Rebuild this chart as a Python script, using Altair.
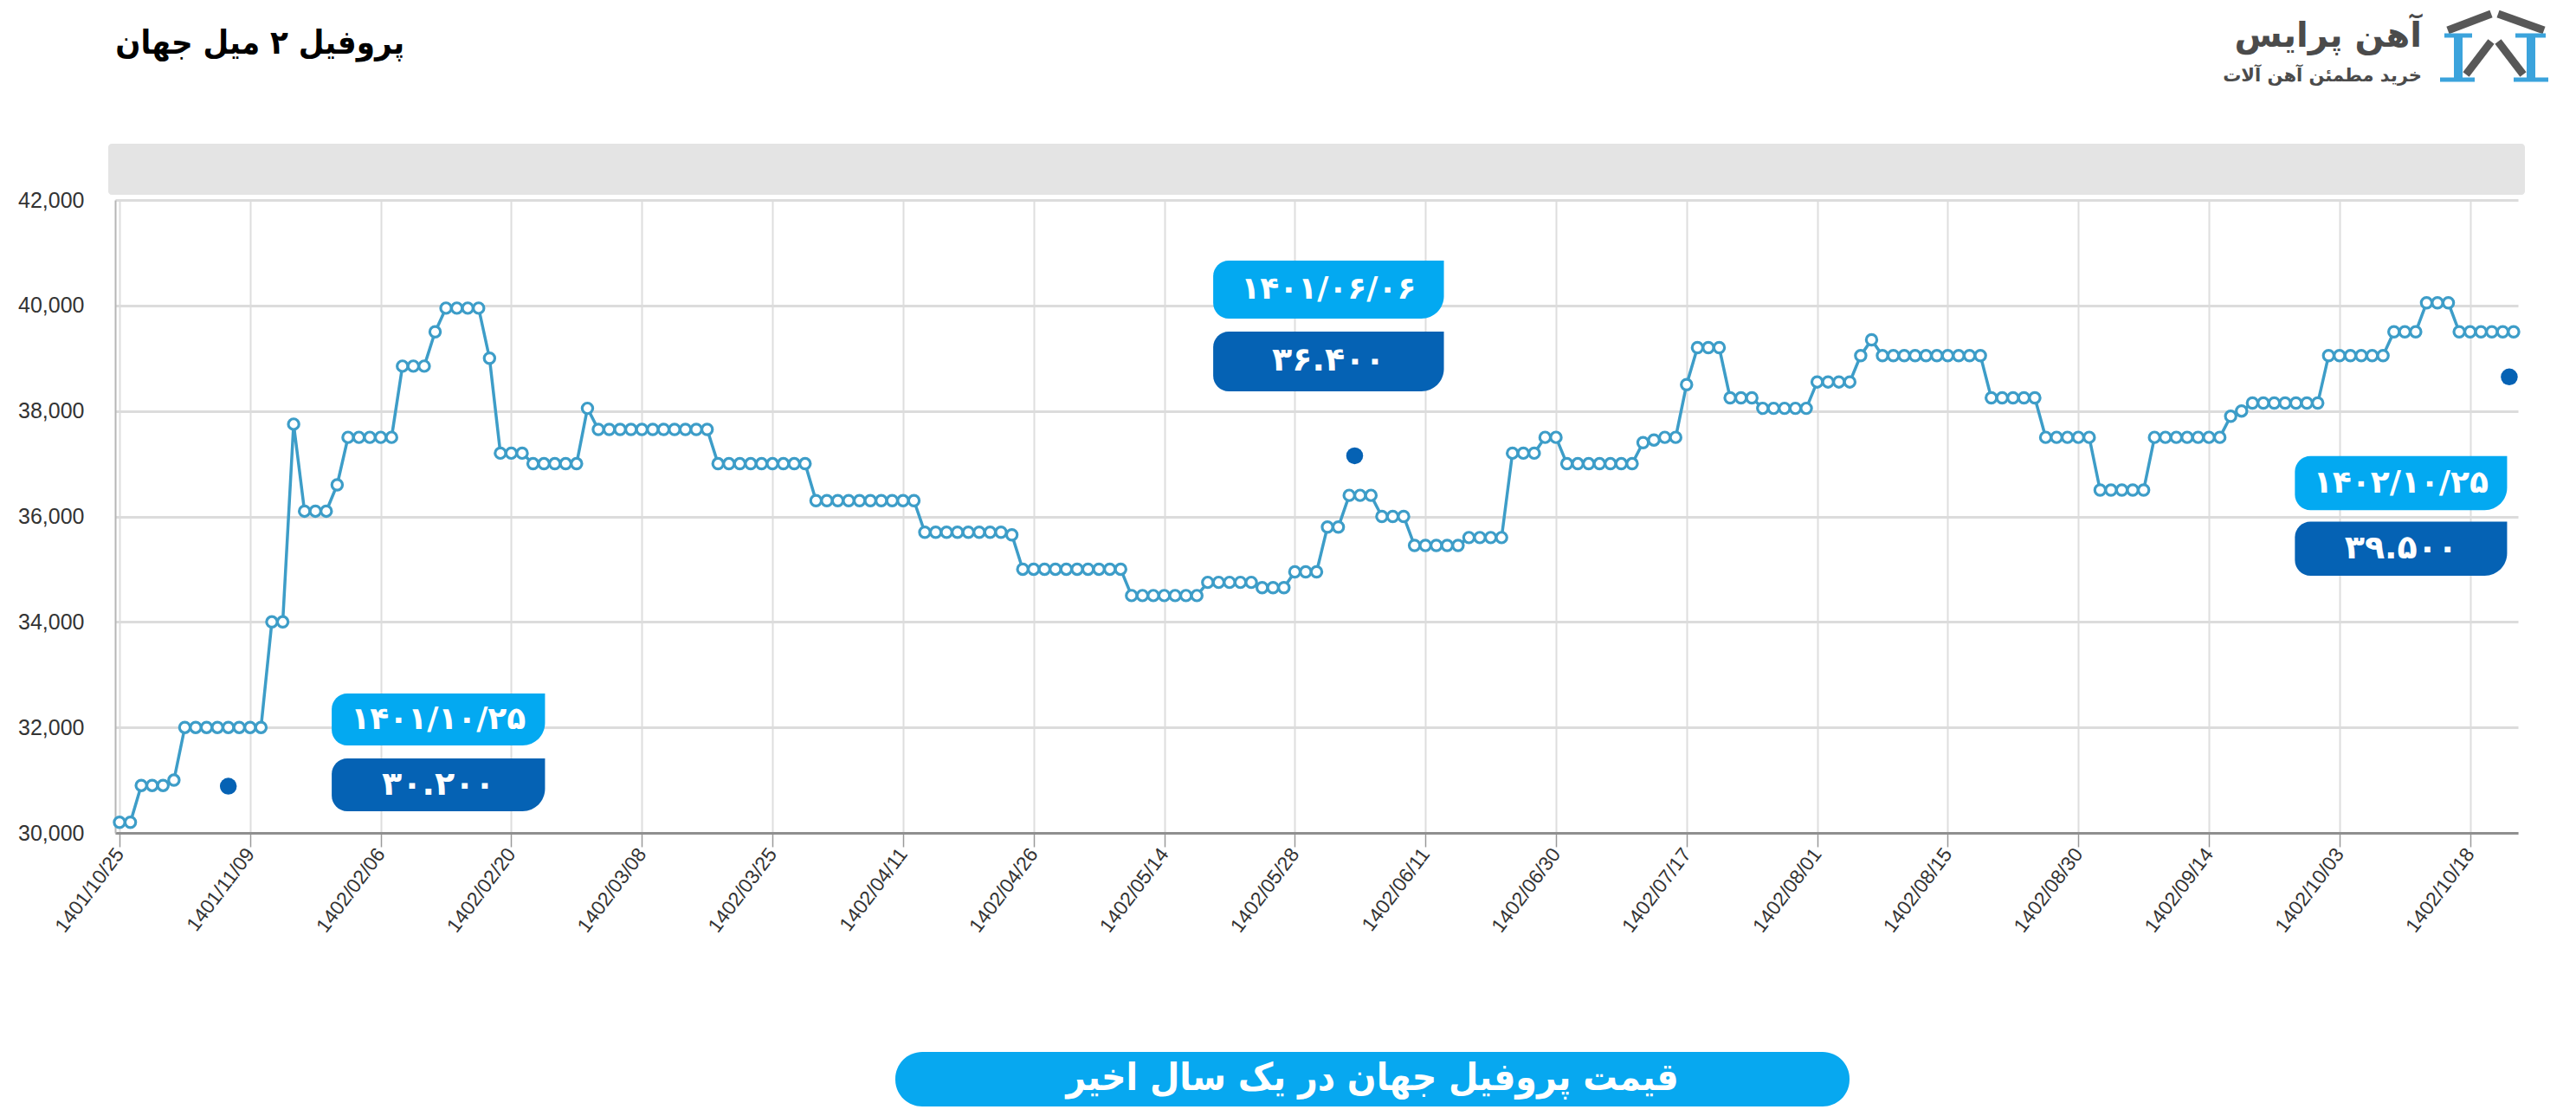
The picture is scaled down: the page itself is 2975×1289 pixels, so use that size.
import altair as alt
import pandas as pd

# ---- data ----
prices = [
    30200, 30200, 30900, 30900, 30900, 31000,
    32000, 32000, 32000, 32000, 32000, 32000, 32000, 32000,
    34000, 34000, 37750, 36100, 36100, 36100, 36600,
    37500, 37500, 37500, 37500, 37500,
    38850, 38850, 38850, 39500,
    39950, 39950, 39950, 39950, 39000,
    37200, 37200, 37200,
    37000, 37000, 37000, 37000, 37000, 38050,
    37650, 37650, 37650, 37650, 37650, 37650, 37650, 37650, 37650, 37650, 37650,
    37000, 37000, 37000, 37000, 37000, 37000, 37000, 37000, 37000,
    36300, 36300, 36300, 36300, 36300, 36300, 36300, 36300, 36300, 36300,
    35700, 35700, 35700, 35700, 35700, 35700, 35700, 35700, 35650,
    35000, 35000, 35000, 35000, 35000, 35000, 35000, 35000, 35000, 35000,
    34500, 34500, 34500, 34500, 34500, 34500, 34500,
    34750, 34750, 34750, 34750, 34750,
    34650, 34650, 34650, 34950, 34950, 34950,
    35800, 35800, 36400, 36400, 36400,
    36000, 36000, 36000,
    35450, 35450, 35450, 35450, 35450,
    35600, 35600, 35600, 35600,
    37200, 37200, 37200, 37500, 37500,
    37000, 37000, 37000, 37000, 37000, 37000, 37000,
    37400, 37450, 37500, 37500, 38500,
    39200, 39200, 39200, 38250, 38250, 38250,
    38050, 38050, 38050, 38050, 38050,
    38550, 38550, 38550, 38550, 39050, 39350,
    39050, 39050, 39050, 39050, 39050, 39050, 39050, 39050, 39050, 39050,
    38250, 38250, 38250, 38250, 38250,
    37500, 37500, 37500, 37500, 37500,
    36500, 36500, 36500, 36500, 36500,
    37500, 37500, 37500, 37500, 37500, 37500, 37500,
    37900, 38000,
    38150, 38150, 38150, 38150, 38150, 38150, 38150,
    39050, 39050, 39050, 39050, 39050, 39050,
    39500, 39500, 39500,
    40050, 40050, 40050,
    39500, 39500, 39500, 39500, 39500, 39500,
]

tick_labels = [
    "1401/10/25", "1401/11/09", "1402/02/06", "1402/02/20", "1402/03/08",
    "1402/03/25", "1402/04/11", "1402/04/26", "1402/05/14", "1402/05/28",
    "1402/06/11", "1402/06/30", "1402/07/17", "1402/08/01", "1402/08/15",
    "1402/08/30", "1402/09/14", "1402/10/03", "1402/10/18",
]
y_ticks = [30000, 32000, 34000, 36000, 38000, 40000, 42000]

ann_dates = ["۱۴۰۱/۱۰/۲۵", "۱۴۰۱/۰۶/۰۶", "۱۴۰۲/۱۰/۲۵"]
ann_prices = ["۳۰.۲۰۰", "۳۶.۴۰۰", "۳۹.۵۰۰"]

title_text = "پروفیل ۲ میل جهان"
footer_text = "قیمت پروفیل جهان در یک سال اخیر"
logo_text = "آهن پرایس"
logo_sub = "خرید مطمئن آهن آلات"

# ---- annotation placement (data coordinates) ----
box_x0 = [19.5, 100.5, 199.9]
box_x1 = [39.1, 121.7, 219.4]
date_top = [32643, 40851, 37143]
date_bot = [31658, 39751, 36120]
price_top = [31412, 39505, 35900]
price_bot = [30410, 38372, 34875]
dot_x = [10, 113.5, 219.6]
dot_y = [30886, 37150, 38646]

LINE = "#3d9dc8"
LIGHT = "#03a9f1"
DARK = "#0562b4"
FONT_FA = "DejaVu Sans"
FONT_FA_C = "DejaVu Sans Condensed, DejaVu Sans"
FONT_AX = "Liberation Sans Narrow, Liberation Sans, DejaVu Sans Condensed, sans-serif"

df = pd.DataFrame({"i": list(range(len(prices))), "v": prices})
ann = pd.DataFrame({
    "x0": box_x0, "x1": box_x1,
    "dt": date_top, "db": date_bot, "pt": price_top, "pb": price_bot,
    "date": ann_dates, "price": ann_prices,
})
ann["xm"] = (ann["x0"] + ann["x1"]) / 2
ann["dm"] = (ann["dt"] + ann["db"]) / 2
ann["pm"] = (ann["pt"] + ann["pb"]) / 2
dots = pd.DataFrame({"dx": dot_x, "dy": dot_y})
one = pd.DataFrame({"a": [0]})

tick_idx = [12 * k for k in range(len(tick_labels))]
label_arr = "[" + ",".join("'" + s + "'" for s in tick_labels) + "]"

xscale = alt.Scale(domain=[-0.4, 220.4], nice=False, zero=False)
yscale = alt.Scale(domain=[30000, 42000], nice=False, zero=False)

x_axis = alt.Axis(
    values=tick_idx, labelExpr=label_arr + "[round(datum.value/12)]",
    labelAngle=-53, labelAlign="right", labelBaseline="middle",
    labelFontSize=23, labelFont=FONT_AX, labelColor="#333333",
    labelPadding=4, labelFlush=False, labelOverlap=False, labelBound=False,
    tickSize=16, tickColor="#9a9a9a", tickWidth=1.5,
    domainColor="#8f8f8f", domainWidth=3,
    grid=True, gridColor="#dedede", gridWidth=2, title=None,
)
y_axis = alt.Axis(
    values=y_ticks, format=",d", labelFontSize=25, labelFont=FONT_AX,
    labelColor="#333333", ticks=False, labelPadding=36,
    domainColor="#b5b5b5", domainWidth=2,
    grid=True, gridColor="#dcdcdc", gridWidth=3, title=None,
)

band = alt.Chart(one).mark_rect(color="#e4e4e4", cornerRadius=4).encode(
    x=alt.value(-8), x2=alt.value(2783), y=alt.value(-65), y2=alt.value(-6)
)

line = alt.Chart(df).mark_line(color=LINE, strokeWidth=3.5).encode(
    x=alt.X("i:Q", scale=xscale, axis=x_axis, title=None),
    y=alt.Y("v:Q", scale=yscale, axis=y_axis, title=None),
)
pts = alt.Chart(df).mark_point(
    shape="circle", filled=True, fill="white", stroke=LINE,
    strokeWidth=3.2, size=150, opacity=1
).encode(x=alt.X("i:Q", title=None), y=alt.Y("v:Q", title=None))

corner = dict(cornerRadiusTopLeft=18, cornerRadiusTopRight=0,
              cornerRadiusBottomRight=26, cornerRadiusBottomLeft=18)
date_box = alt.Chart(ann).mark_rect(color=LIGHT, **corner).encode(
    x=alt.X("x0:Q", title=None), x2="x1:Q",
    y=alt.Y("dt:Q", title=None), y2="db:Q",
)
price_box = alt.Chart(ann).mark_rect(color=DARK, **corner).encode(
    x=alt.X("x0:Q", title=None), x2="x1:Q",
    y=alt.Y("pt:Q", title=None), y2="pb:Q",
)
date_txt = alt.Chart(ann).mark_text(
    color="white", font=FONT_FA, fontSize=36, fontWeight="bold", baseline="middle"
).encode(x=alt.X("xm:Q", title=None), y=alt.Y("dm:Q", title=None), text="date:N")
price_txt = alt.Chart(ann).mark_text(
    color="white", font=FONT_FA, fontSize=38, fontWeight="bold", baseline="middle"
).encode(x=alt.X("xm:Q", title=None), y=alt.Y("pm:Q", title=None), text="price:N")
dot_layer = alt.Chart(dots).mark_circle(color=DARK, size=380, opacity=1).encode(
    x=alt.X("dx:Q", title=None), y=alt.Y("dy:Q", title=None)
)

title = alt.Chart(one).mark_text(
    text=title_text, font=FONT_FA_C, fontSize=38, fontWeight="bold",
    color="#000000", align="right", baseline="middle"
).encode(x=alt.value(334), y=alt.value(-180))

footer_bg = alt.Chart(one).mark_rect(color="#07a8f0", cornerRadius=31).encode(
    x=alt.value(901), x2=alt.value(2003), y=alt.value(984), y2=alt.value(1047)
)
footer = alt.Chart(one).mark_text(
    text=footer_text, font=FONT_FA_C, fontSize=44, fontWeight="bold",
    color="white", align="center", baseline="middle"
).encode(x=alt.value(1452), y=alt.value(1015))

logo_t = alt.Chart(one).mark_text(
    text=logo_text, font=FONT_FA, fontSize=40, fontWeight="bold",
    color="#4b4b4b", align="right", baseline="middle"
).encode(x=alt.value(2664), y=alt.value(-189))
logo_s = alt.Chart(one).mark_text(
    text=logo_sub, font=FONT_FA, fontSize=21, fontWeight="bold",
    color="#4b4b4b", align="right", baseline="middle"
).encode(x=alt.value(2664), y=alt.value(-143))


def seg(x1, y1, x2, y2, color, w):
    return alt.Chart(one).mark_rule(color=color, strokeWidth=w, strokeCap="butt").encode(
        x=alt.value(x1), y=alt.value(y1), x2=alt.value(x2), y2=alt.value(y2)
    )


OX, OY = 133, 231  # plot origin in page pixels
BLUE_I = "#3ba3dc"
GRAY_I = "#585858"
icon = [
    seg(2827 - OX, 35 - OY, 2877 - OX, 16 - OY, GRAY_I, 9),
    seg(2885 - OX, 16 - OY, 2938 - OX, 35 - OY, GRAY_I, 9),
    seg(2848 - OX, 86 - OY, 2877 - OX, 48 - OY, GRAY_I, 9),
    seg(2885 - OX, 48 - OY, 2914 - OX, 86 - OY, GRAY_I, 9),
    seg(2839 - OX, 40 - OY, 2839 - OX, 93 - OY, BLUE_I, 10),
    seg(2823 - OX, 41 - OY, 2855 - OX, 41 - OY, BLUE_I, 5),
    seg(2818 - OX, 92 - OY, 2858 - OX, 92 - OY, BLUE_I, 5),
    seg(2923 - OX, 40 - OY, 2923 - OX, 93 - OY, BLUE_I, 10),
    seg(2905 - OX, 41 - OY, 2940 - OX, 41 - OY, BLUE_I, 5),
    seg(2903 - OX, 92 - OY, 2943 - OX, 92 - OY, BLUE_I, 5),
]

chart = alt.layer(
    line, band, pts, date_box, price_box, date_txt, price_txt, dot_layer,
    title, footer_bg, footer, logo_t, logo_s, *icon
).properties(
    width=2775, height=731,
    autosize=alt.AutoSizeParams(type="none"),
    padding={"left": 125, "top": 223, "right": 59, "bottom": 319},
).configure(background="white").configure_view(stroke=None)

chart.save("out.html", embed_options={"renderer": "svg", "actions": False})
